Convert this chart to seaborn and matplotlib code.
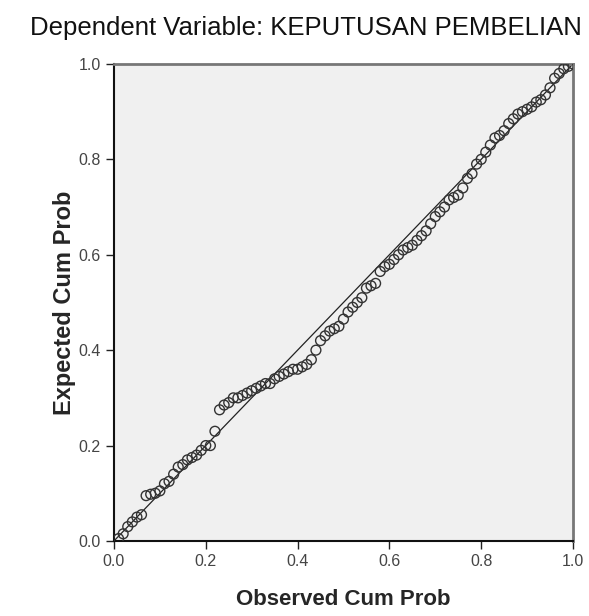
import matplotlib
matplotlib.use("Agg")
import matplotlib.pyplot as plt
import seaborn as sns
import pandas as pd

# observed vs expected cumulative probability
observed = [0.01, 0.02, 0.03, 0.04, 0.05, 0.06, 0.07, 0.08, 0.09, 0.10,
            0.11, 0.12, 0.13, 0.14, 0.15, 0.16, 0.17, 0.18, 0.19, 0.20,
            0.21, 0.22, 0.23, 0.24, 0.25, 0.26, 0.27, 0.28, 0.29, 0.30,
            0.31, 0.32, 0.33, 0.34, 0.35, 0.36, 0.37, 0.38, 0.39, 0.40,
            0.41, 0.42, 0.43, 0.44, 0.45, 0.46, 0.47, 0.48, 0.49, 0.50,
            0.51, 0.52, 0.53, 0.54, 0.55, 0.56, 0.57, 0.58, 0.59, 0.60,
            0.61, 0.62, 0.63, 0.64, 0.65, 0.66, 0.67, 0.68, 0.69, 0.70,
            0.71, 0.72, 0.73, 0.74, 0.75, 0.76, 0.77, 0.78, 0.79, 0.80,
            0.81, 0.82, 0.83, 0.84, 0.85, 0.86, 0.87, 0.88, 0.89, 0.90,
            0.91, 0.92, 0.93, 0.94, 0.95, 0.96, 0.97, 0.98, 0.99, 1.00]
expected = [0.005, 0.015, 0.03, 0.04, 0.05, 0.055, 0.095, 0.098, 0.10, 0.105,
            0.12, 0.125, 0.14, 0.155, 0.16, 0.17, 0.175, 0.18, 0.19, 0.20,
            0.20, 0.23, 0.275, 0.285, 0.29, 0.30, 0.30, 0.305, 0.31, 0.315,
            0.32, 0.325, 0.33, 0.33, 0.34, 0.345, 0.35, 0.355, 0.36, 0.36,
            0.365, 0.37, 0.38, 0.40, 0.42, 0.43, 0.44, 0.445, 0.45, 0.465,
            0.48, 0.49, 0.50, 0.51, 0.53, 0.535, 0.54, 0.565, 0.575, 0.58,
            0.59, 0.60, 0.61, 0.615, 0.62, 0.63, 0.64, 0.65, 0.665, 0.68,
            0.69, 0.70, 0.715, 0.72, 0.725, 0.74, 0.76, 0.77, 0.79, 0.80,
            0.815, 0.83, 0.845, 0.85, 0.86, 0.875, 0.885, 0.895, 0.90, 0.905,
            0.91, 0.92, 0.925, 0.935, 0.95, 0.97, 0.98, 0.99, 0.995, 1.0]
diag = [0.0, 1.0]
ticks = [0.0, 0.2, 0.4, 0.6, 0.8, 1.0]
tick_labels = ["0.0", "0.2", "0.4", "0.6", "0.8", "1.0"]

df = pd.DataFrame({"Observed Cum Prob": observed, "Expected Cum Prob": expected})

sns.set_style("white")
plt.rcParams['font.family'] = ['Liberation Sans', 'DejaVu Sans']

fig = plt.figure(figsize=(5.89, 6.16), dpi=100)
ax = fig.add_axes([0.1935, 0.1218, 0.7793, 0.7744])
ax.set_facecolor("#f0f0f0")

ax.plot(diag, diag, color="#222222", lw=0.9, zorder=2)
sns.scatterplot(data=df, x="Observed Cum Prob", y="Expected Cum Prob", ax=ax,
                marker="o", s=50, facecolor="none", edgecolor="#333333",
                linewidth=1.0, zorder=3)

ax.set_xlim(0, 1)
ax.set_ylim(0, 1)
ax.set_xticks(ticks)
ax.set_xticklabels(tick_labels)
ax.set_yticks(ticks)
ax.set_yticklabels(tick_labels)
ax.tick_params(axis="both", direction="out", length=6, width=1, colors="#222222",
               labelsize=11.5, labelcolor="#444444", bottom=True, left=True)

for side in ["left", "bottom"]:
    ax.spines[side].set_color("#111111")
    ax.spines[side].set_linewidth(1.5)
for side in ["top", "right"]:
    ax.spines[side].set_color("#777777")
    ax.spines[side].set_linewidth(2)

ax.set_xlabel("Observed Cum Prob", fontsize=16, fontweight="bold", labelpad=14)
ax.set_ylabel("Expected Cum Prob", fontsize=17, fontweight="bold", labelpad=2)
fig.text(0.52, 0.955, "Dependent Variable: KEPUTUSAN PEMBELIAN", fontsize=18.5,
         ha="center", va="center", color="#111111")

fig.savefig("out.png", dpi=100)
